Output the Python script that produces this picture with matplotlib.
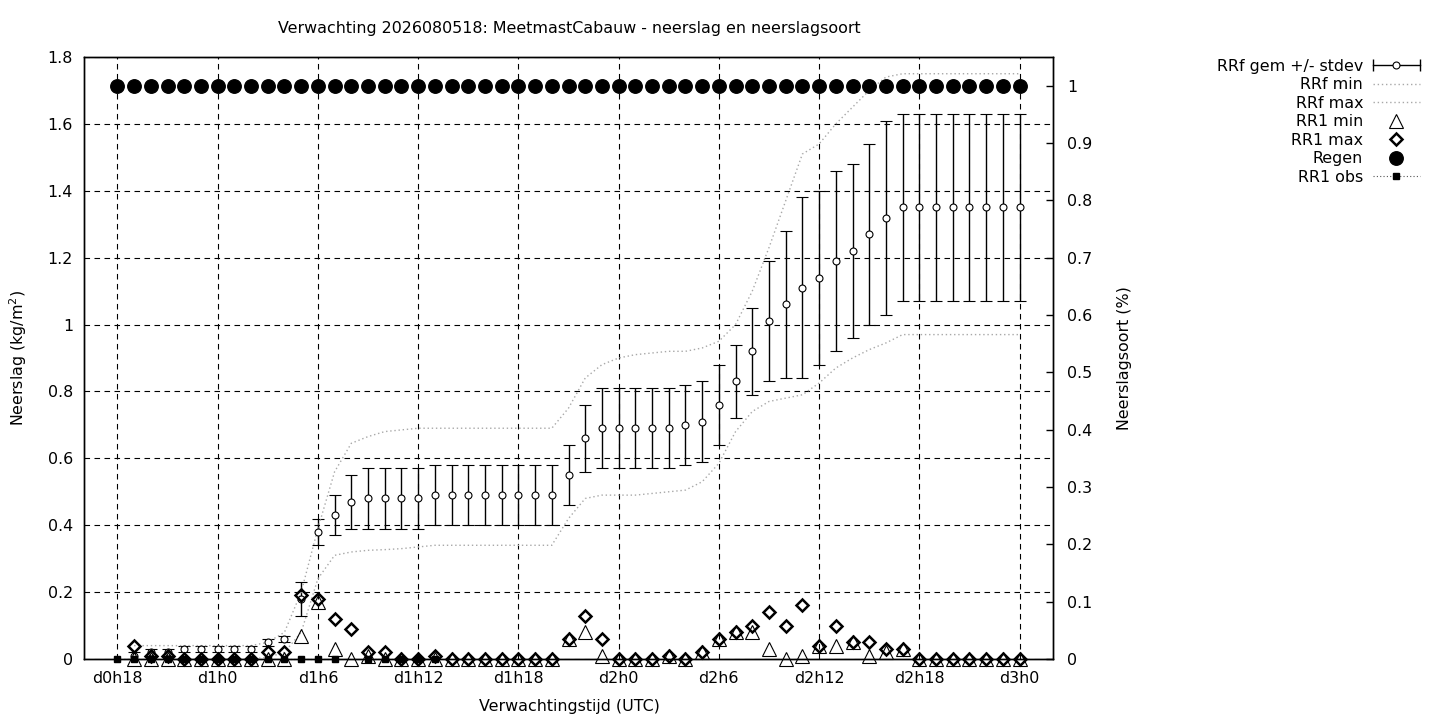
import matplotlib
matplotlib.use("Agg")
import matplotlib.pyplot as plt
import numpy as np
from matplotlib.lines import Line2D
from matplotlib.legend_handler import HandlerLine2D
from matplotlib.ticker import FuncFormatter

plt.rcParams['font.family'] = 'DejaVu Sans'
plt.rcParams['font.size'] = 11.4

# uren vanaf d0h0
uren = list(range(18, 73))
uren_ens = list(range(19, 73))
uren_obs = list(range(18, 38))

tijd_ticks = [18, 24, 30, 36, 42, 48, 54, 60, 66, 72]
tijd_labels = ["d0h18", "d1h0", "d1h6", "d1h12", "d1h18",
               "d2h0", "d2h6", "d2h12", "d2h18", "d3h0"]

# RRf gemiddelde en stdev (h19..h72)
rrf_gem = [0.01, 0.02, 0.02, 0.03, 0.03, 0.03, 0.03, 0.03, 0.05, 0.06,
           0.18, 0.38, 0.43, 0.47, 0.48, 0.48, 0.48, 0.48, 0.49, 0.49,
           0.49, 0.49, 0.49, 0.49, 0.49, 0.49, 0.55, 0.66, 0.69, 0.69,
           0.69, 0.69, 0.69, 0.70, 0.71, 0.76, 0.83, 0.92, 1.01, 1.06,
           1.11, 1.14, 1.19, 1.22, 1.27, 1.32, 1.35, 1.35, 1.35, 1.35,
           1.35, 1.35, 1.35, 1.35]
rrf_std = [0.01, 0.01, 0.01, 0.01, 0.01, 0.01, 0.01, 0.01, 0.01, 0.01,
           0.05, 0.04, 0.06, 0.08, 0.09, 0.09, 0.09, 0.09, 0.09, 0.09,
           0.09, 0.09, 0.09, 0.09, 0.09, 0.09, 0.09, 0.10, 0.12, 0.12,
           0.12, 0.12, 0.12, 0.12, 0.12, 0.12, 0.11, 0.13, 0.18, 0.22,
           0.27, 0.26, 0.27, 0.26, 0.27, 0.29, 0.28, 0.28, 0.28, 0.28,
           0.28, 0.28, 0.28, 0.28]
rrf_min = [0.0, 0.0, 0.0, 0.0, 0.0, 0.0, 0.0, 0.0, 0.005, 0.02,
           0.08, 0.24, 0.31, 0.32, 0.325, 0.327, 0.33, 0.335, 0.34, 0.34,
           0.34, 0.34, 0.34, 0.34, 0.34, 0.34, 0.42, 0.48, 0.49, 0.49,
           0.49, 0.495, 0.50, 0.505, 0.53, 0.585, 0.68, 0.74, 0.77, 0.78,
           0.79, 0.825, 0.87, 0.90, 0.925, 0.945, 0.97, 0.97, 0.97, 0.97,
           0.97, 0.97, 0.97, 0.97]
rrf_max = [0.04, 0.04, 0.04, 0.04, 0.04, 0.04, 0.04, 0.04, 0.05, 0.08,
           0.20, 0.39, 0.56, 0.645, 0.665, 0.68, 0.685, 0.69, 0.69, 0.69,
           0.69, 0.69, 0.69, 0.69, 0.69, 0.69, 0.75, 0.84, 0.88, 0.90,
           0.91, 0.915, 0.92, 0.92, 0.93, 0.95, 1.0, 1.10, 1.23, 1.37,
           1.51, 1.54, 1.60, 1.65, 1.70, 1.74, 1.75, 1.75, 1.75, 1.75,
           1.75, 1.75, 1.75, 1.75]

# RR1 min / max (h19..h72)
rr1_min = [0.0, 0.0, 0.0, 0.0, 0.0, 0.0, 0.0, 0.0, 0.0, 0.0,
           0.07, 0.17, 0.03, 0.0, 0.01, 0.0, 0.0, 0.0, 0.0, 0.0,
           0.0, 0.0, 0.0, 0.0, 0.0, 0.0, 0.06, 0.08, 0.01, 0.0,
           0.0, 0.0, 0.01, 0.0, 0.02, 0.06, 0.08, 0.08, 0.03, 0.0,
           0.01, 0.04, 0.04, 0.05, 0.01, 0.02, 0.03, 0.0, 0.0, 0.0,
           0.0, 0.0, 0.0, 0.0]
rr1_max = [0.04, 0.01, 0.01, 0.0, 0.0, 0.0, 0.0, 0.0, 0.02, 0.02,
           0.19, 0.18, 0.12, 0.09, 0.02, 0.02, 0.0, 0.0, 0.01, 0.0,
           0.0, 0.0, 0.0, 0.0, 0.0, 0.0, 0.06, 0.13, 0.06, 0.0,
           0.0, 0.0, 0.01, 0.0, 0.02, 0.06, 0.08, 0.10, 0.14, 0.10,
           0.16, 0.04, 0.10, 0.05, 0.05, 0.03, 0.03, 0.0, 0.0, 0.0,
           0.0, 0.0, 0.0, 0.0]

# neerslagsoort regen (h18..h72)
regen = [1, 1, 1, 1, 1, 1, 1, 1, 1, 1, 1, 1, 1, 1, 1, 1, 1, 1, 1, 1,
         1, 1, 1, 1, 1, 1, 1, 1, 1, 1, 1, 1, 1, 1, 1, 1, 1, 1, 1, 1,
         1, 1, 1, 1, 1, 1, 1, 1, 1, 1, 1, 1, 1, 1, 1]

# waarnemingen (h18..h37)
rr1_obs = [0.0, 0.0, 0.0, 0.0, 0.0, 0.0, 0.0, 0.0, 0.0, 0.0,
           0.0, 0.0, 0.0, 0.0, np.nan, 0.0, 0.0, 0.0, 0.0, 0.0]

titel = "Verwachting 2026080518: MeetmastCabauw - neerslag en neerslagsoort"

fig = plt.figure(figsize=(14.4, 7.2), dpi=100)
ax = fig.add_axes([84/1440, 61/720, 969/1440, 602/720])

ax.errorbar(uren_ens, rrf_gem, yerr=rrf_std, fmt='o', color='black',
            mfc='white', mec='black', ms=5, mew=0.8, elinewidth=1,
            capsize=4, capthick=1, zorder=3)
ax.plot(uren_ens, rrf_min, ls=(0, (1, 2)), color='#a8a8a8', lw=1, zorder=3)
ax.plot(uren_ens, rrf_max, ls=(0, (1, 2)), color='#a8a8a8', lw=1, zorder=3)
ax.plot(uren_ens, rr1_min, ls='none', marker='^', ms=9.5, mfc='none',
        mec='black', mew=0.8, clip_on=False, zorder=4)
ax.plot(uren_ens, rr1_max, ls='none', marker='D', ms=6.5, mfc='none',
        mec='black', mew=1.8, clip_on=False, zorder=4)
ax.plot(uren_obs, rr1_obs, ls=(0, (1, 2)), lw=0.8, color='black', marker='s',
        ms=4.5, clip_on=False, zorder=5)

ax.set_xlim(16, 74)
ax.set_ylim(0, 1.8)
ax.set_xticks(tijd_ticks)
ax.set_xticklabels(tijd_labels)
ax.set_yticks(np.arange(0, 1.81, 0.2))
ax.yaxis.set_major_formatter(FuncFormatter(lambda v, p: "%g" % round(v, 2)))
ax.tick_params(axis='both', length=0)
ax.tick_params(axis='y', pad=8)
ax.tick_params(axis='x', pad=8.5)
ax.grid(True, color='black', ls=(0, (5, 4)), lw=0.8)
ax.set_axisbelow(True)

ax2 = ax.twinx()
ax2.plot(uren, regen, ls='none', marker='o', ms=9.7, color='black')
ax2.set_ylim(0, 1.05)
ax2.set_yticks(np.arange(0, 1.01, 0.1))
ax2.yaxis.set_major_formatter(FuncFormatter(lambda v, p: "%g" % round(v, 2)))
ax2.tick_params(axis='y', direction='in', length=5, width=1, pad=10)

for a in (ax, ax2):
    for s in a.spines.values():
        s.set_linewidth(1)
        s.set_color('black')

fig.text(569/1440, 1 - 29/720, titel, ha='center', va='center')
fig.text(569/1440, 1 - 706/720, "Verwachtingstijd (UTC)", ha='center', va='center')
fig.text(18/1440, 1 - 358/720, "Neerslag (kg/m$^2$)", ha='center', va='center',
         rotation=90)
fig.text(1124/1440, 1 - 358/720, "Neerslagsoort (%)", ha='center', va='center',
         rotation=90)

# legenda
h_gem = (Line2D([], [], color='black', lw=1, marker='o', mfc='white',
                mec='black', ms=5, mew=0.8),
         Line2D([], [], ls='none', color='black', marker='|', ms=8, mew=1))
h_min = Line2D([], [], ls=(0, (1, 2)), color='#a8a8a8', lw=1)
h_max = Line2D([], [], ls=(0, (1, 2)), color='#a8a8a8', lw=1)
h_rmin = Line2D([], [], ls='none', marker='^', ms=9.5, mfc='none',
                mec='black', mew=0.8)
h_rmax = Line2D([], [], ls='none', marker='D', ms=6, mfc='none',
                mec='black', mew=1.8)
h_regen = Line2D([], [], ls='none', marker='o', ms=9.7, color='black')
h_obs = Line2D([], [], ls=(0, (1, 2)), lw=0.8, color='#555555', marker='s',
               ms=4.5, mfc='black', mec='black')

fig.legend([h_gem, h_min, h_max, h_rmin, h_rmax, h_regen, h_obs],
           ["RRf gem +/- stdev", "RRf min", "RRf max", "RR1 min", "RR1 max",
            "Regen", "RR1 obs"],
           handler_map={h_gem[1]: HandlerLine2D(numpoints=2, marker_pad=0)},
           loc='upper right', bbox_to_anchor=(1420/1440, 1 - 59/720),
           borderpad=0, borderaxespad=0, frameon=False, markerfirst=False,
           handlelength=3.0, handletextpad=0.6, labelspacing=0.22)

fig.savefig("out.png", dpi=100)
